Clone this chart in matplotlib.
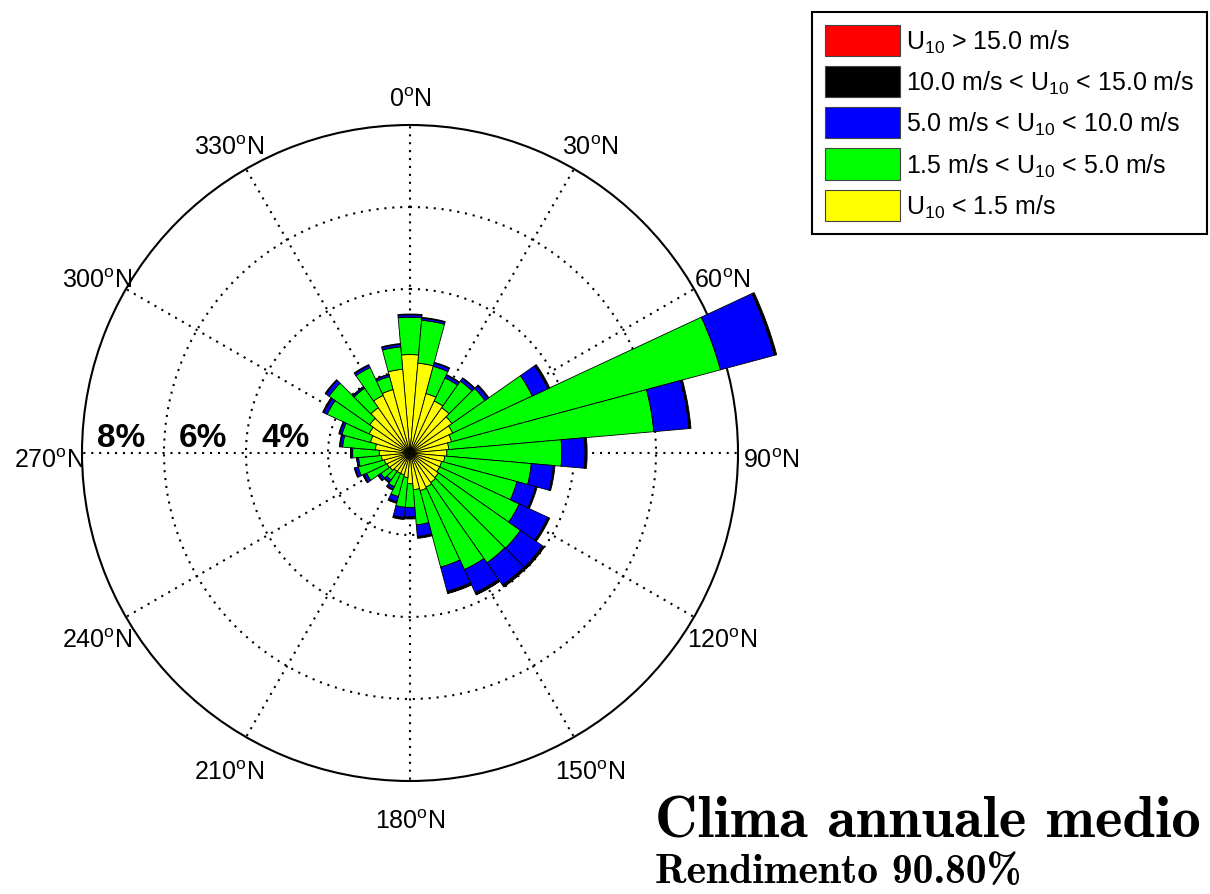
import numpy as np
import matplotlib
matplotlib.use("Agg")
import matplotlib.pyplot as plt
from matplotlib.patches import Patch
from matplotlib import transforms

plt.rcParams['font.family'] = ['Liberation Sans', 'DejaVu Sans']
plt.rcParams['mathtext.fontset'] = 'custom'
plt.rcParams['mathtext.rm'] = 'Liberation Sans'
plt.rcParams['mathtext.it'] = 'Liberation Sans:italic'
plt.rcParams['mathtext.bf'] = 'Liberation Sans:bold'

# Wind direction sectors (degrees from North, 10 deg bins)
directions = list(range(0, 360, 10))

# Frequency (%) of each wind-speed class per direction sector
calm = [2.40, 2.20, 1.50, 1.40, 1.35, 1.25, 1.15, 1.05, 0.95, 0.90, 0.85, 0.80,
        0.80, 0.85, 0.88, 0.92, 0.95, 0.90, 0.75, 0.60, 0.55, 0.55, 0.55, 0.60,
        0.62, 0.65, 0.70, 0.75, 0.85, 1.00, 1.10, 1.20, 1.35, 1.55, 1.60, 2.05]
light = [0.91, 1.05, 0.69, 0.62, 0.79, 0.98, 2.14, 6.79, 5.02, 2.80, 2.12, 1.90,
         2.14, 2.44, 2.39, 2.22, 1.93, 0.86, 0.58, 0.73, 0.55, 0.36, 0.25, 0.27,
         0.55, 0.66, 0.56, 0.65, 0.80, 0.72, 1.13, 1.21, 0.58, 0.75, 0.33, 0.55]
moderate = [0.06, 0.05, 0.08, 0.07, 0.08, 0.09, 0.42, 1.36, 0.86, 0.57, 0.54, 0.47,
            0.77, 0.65, 0.66, 0.62, 0.61, 0.28, 0.23, 0.25, 0.13, 0.06, 0.07, 0.07,
            0.07, 0.08, 0.04, 0.04, 0.06, 0.06, 0.09, 0.10, 0.04, 0.06, 0.05, 0.06]
strong = [0.02, 0.02, 0.02, 0.02, 0.02, 0.03, 0.05, 0.06, 0.05, 0.05, 0.04, 0.04,
          0.05, 0.05, 0.05, 0.05, 0.05, 0.05, 0.05, 0.05, 0.04, 0.03, 0.02, 0.02,
          0.02, 0.02, 0.01, 0.01, 0.02, 0.02, 0.02, 0.02, 0.01, 0.02, 0.01, 0.02]
extreme = [0.00, 0.00, 0.00, 0.00, 0.00, 0.00, 0.00, 0.00, 0.00, 0.00, 0.00, 0.00,
           0.00, 0.01, 0.01, 0.01, 0.01, 0.00, 0.00, 0.00, 0.00, 0.00, 0.00, 0.00,
           0.01, 0.00, 0.00, 0.00, 0.00, 0.00, 0.01, 0.00, 0.00, 0.00, 0.00, 0.00]

class_labels = [r'U$_{10}$ > 15.0 m/s',
                r'10.0 m/s < U$_{10}$ < 15.0 m/s',
                r'5.0 m/s < U$_{10}$ < 10.0 m/s',
                r'1.5 m/s < U$_{10}$ < 5.0 m/s',
                r'U$_{10}$ < 1.5 m/s']
class_colors = ['#ff0000', '#000000', '#0000ff', '#00ff00', '#ffff00']

ring_values = [2, 4, 6]
ring_labels = [4, 6, 8]
angle_ticks = list(range(0, 360, 30))
r_max = 8

W, H = 1210, 895
fig = plt.figure(figsize=(W / 100, H / 100), dpi=100)
cx, cy, R = 410, 454, 328
ax = fig.add_axes([(cx - R) / W, (H - cy - R) / H, 2 * R / W, 2 * R / H],
                  projection='polar')
ax.set_theta_zero_location('N')
ax.set_theta_direction(-1)
ax.set_ylim(0, r_max)

theta = np.deg2rad(directions)
width = np.deg2rad(10)
bottom = np.zeros(len(directions))
stack = [calm, light, moderate, strong, extreme]
stack_colors = ['#ffff00', '#00ff00', '#0000ff', '#000000', '#ff0000']
for vals, col in zip(stack, stack_colors):
    v = np.array(vals)
    m = v > 0
    ax.bar(theta[m], v[m], width=width, bottom=bottom[m], color=col,
           edgecolor='black', linewidth=0.6, clip_on=False, zorder=3)
    bottom += v

# grid
ax.set_xticks(np.deg2rad(angle_ticks))
ax.set_xticklabels([])
ax.set_yticks(ring_values)
ax.set_yticklabels([])
ax.grid(True, color='black', linestyle=(0, (1, 2.8)), linewidth=1.5)
ax.spines['polar'].set_linewidth(1.5)

ang_tr = transforms.offset_copy(ax.transData, fig=fig, x=0, y=-5, units='points')
for a in angle_ticks:
    ax.text(np.deg2rad(a), 8.8, rf'{a}$^{{\mathrm{{o}}}}$N', ha='center',
            va='center', fontsize=18, clip_on=False, transform=ang_tr)

lab_tr = transforms.offset_copy(ax.transData, fig=fig, x=0, y=5, units='points')
for v in ring_labels:
    ax.text(np.deg2rad(270), v - 0.37, f'{v}%', fontsize=24, fontweight='bold',
            ha='left', va='baseline', transform=lab_tr)

handles = [Patch(facecolor=c, edgecolor='#444444', linewidth=0.8) for c in class_colors]
leg = fig.legend(handles, class_labels, loc='upper right',
                 bbox_to_anchor=(1207 / W, 1 - 13 / H), borderaxespad=0,
                 fontsize=18, handlelength=3.0, handleheight=1.55,
                 handletextpad=0.25, labelspacing=0.40, borderpad=0.5,
                 frameon=True, fancybox=False, edgecolor='black', framealpha=1)
leg.get_frame().set_linewidth(1.5)

fig.text(655 / W, 1 - 838 / H, 'Clima annuale medio',
         fontfamily='cmb10', fontsize=42.4, ha='left', va='baseline')
fig.text(655 / W, 1 - 883 / H, 'Rendimento 90.80%',
         fontfamily='cmb10', fontsize=30, ha='left', va='baseline')

fig.savefig('out.png', dpi=100)
